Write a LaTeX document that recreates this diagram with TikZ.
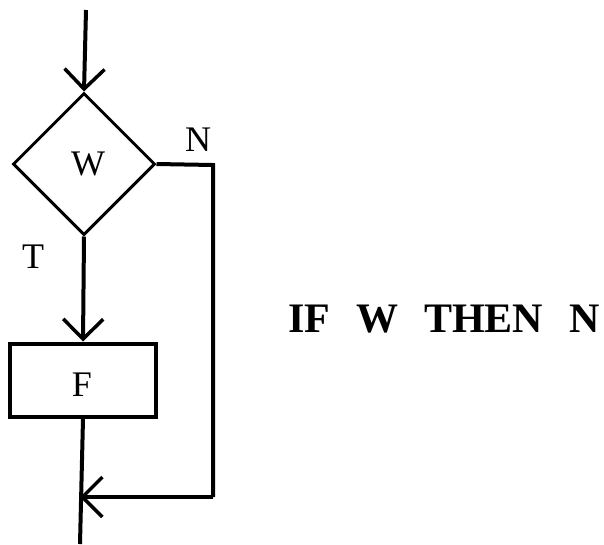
\documentclass[tikz,border=0pt]{standalone}
\usepackage{fontspec}
\setmainfont{Liberation Serif}
\usetikzlibrary{shapes.geometric,arrows.meta}
\begin{document}
\begin{tikzpicture}[x=1pt,y=-1pt,
  flow/.style={line width=4pt},
  tip/.style={-{Straight Barb[length=20pt,width=40pt,line width=3.5pt]}},
  lbl/.style={font=\fontsize{36}{36}\selectfont, inner sep=0pt},
  decision/.style={diamond, draw, line width=3pt, minimum width=142pt, minimum height=142pt, inner sep=0pt, aspect=1},
  process/.style={rectangle, draw, line width=4pt, minimum width=146pt, minimum height=73pt, inner sep=0pt}]
\useasboundingbox (0,0) rectangle (604,544);
\node[decision] (w) at (84,164) {};
\node[process] (f) at (83,380) {};
\node[lbl] (wl) at (88,164) {W};
\node[lbl] (fl) at (82,385) {F};
\coordinate (start) at (86,10);
\coordinate (nr) at (213,165);
\coordinate (nb) at (213,497);
\coordinate (join) at (80,497);
\coordinate (end) at (80,544);
\draw[flow,tip] (start) -- (w.north);
\draw[flow,tip] (w.south) -- (f.north);
\draw[flow] (w.east) -- (nr) -- (nb);
\draw[flow,tip] (nb) -- (join);
\draw[flow] (f.south) -- (end);
\node[lbl] (n) at (198,140) {N};
\node[lbl] (t) at (33,257) {T};
\node[font=\fontsize{42}{42}\selectfont\bfseries, inner sep=0pt, anchor=west] (title) at (288,319) {IF\hspace{0.62em}W\hspace{0.62em}THEN\hspace{0.62em}N};
\end{tikzpicture}
\end{document}
